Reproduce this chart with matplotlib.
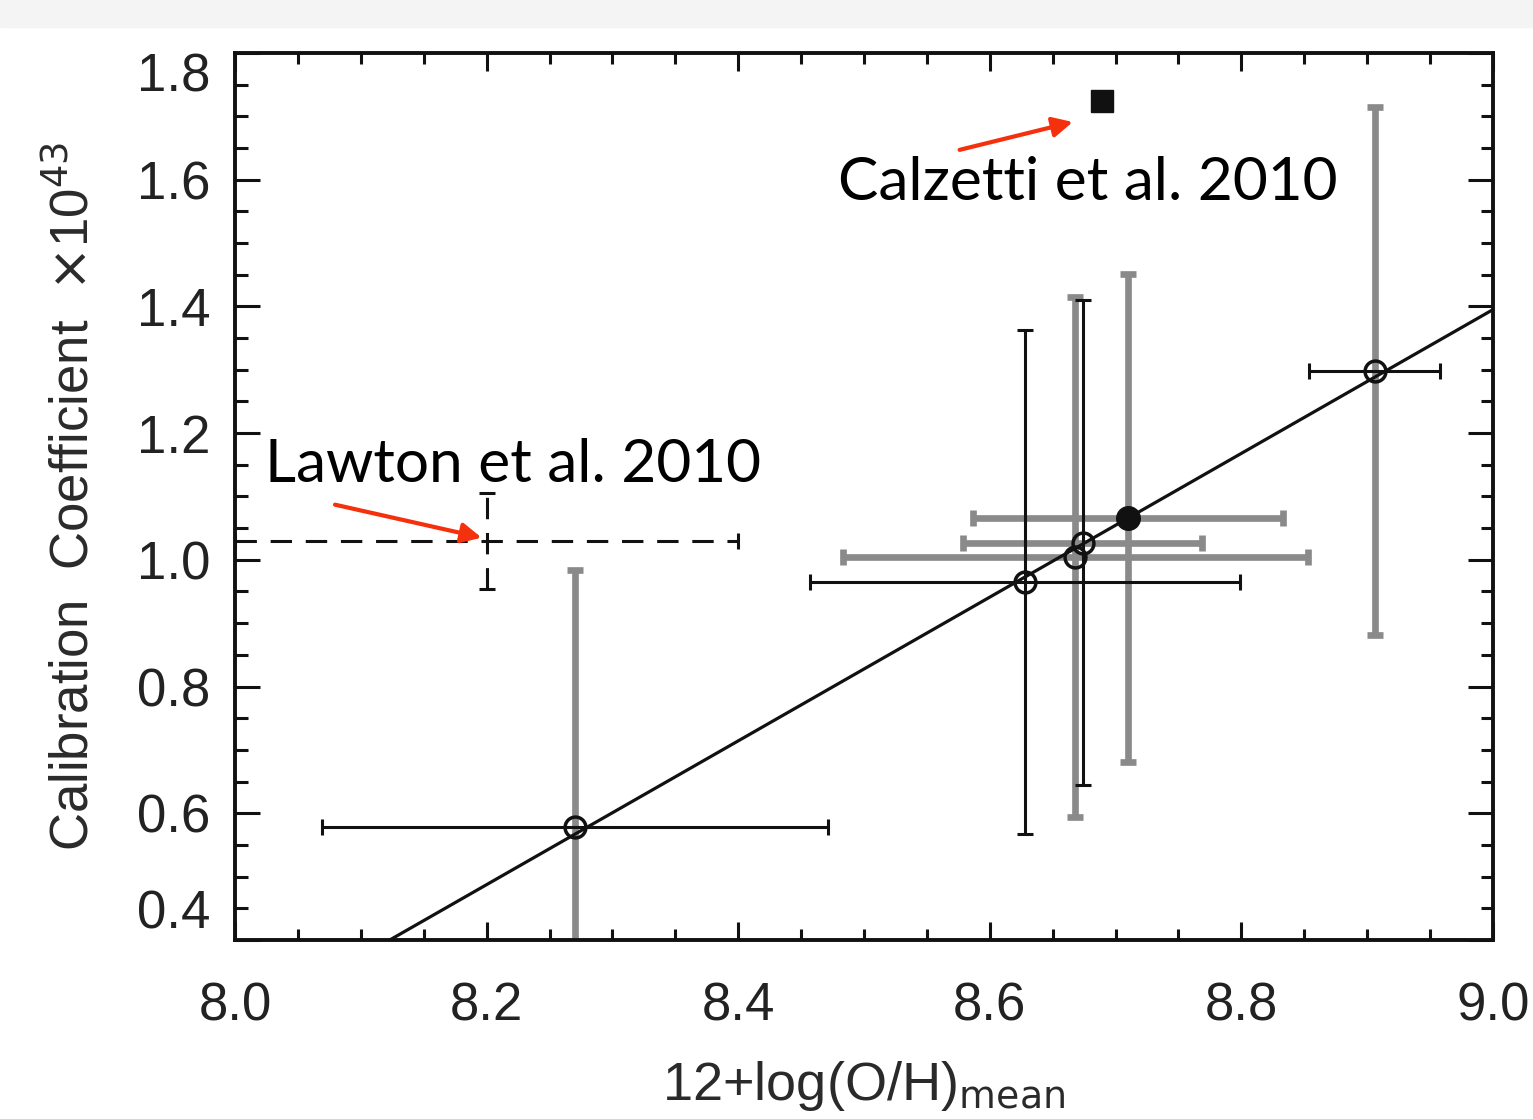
import matplotlib
matplotlib.use('Agg')
import matplotlib.pyplot as plt
from matplotlib.patches import Rectangle
from matplotlib.ticker import MultipleLocator
import numpy as np

# metallicity bins: 12+log(O/H) and calibration coefficient (x 1e43)
oh = [8.270, 8.628, 8.674, 8.668, 8.710, 8.906]
coeff = [0.578, 0.965, 1.027, 1.004, 1.066, 1.298]
oh_err = [0.201, 0.171, 0.095, 0.185, 0.123, 0.052]
coeff_err = [0.406, 0.397, 0.383, 0.410, 0.385, 0.416]
oh_err_gray = [False, False, True, True, True, False]
coeff_err_gray = [True, False, False, True, True, True]
filled = [False, False, False, False, True, False]

# linear fit coefficient = slope * oh + intercept
fit_slope = 1.1345
fit_intercept = -8.8156

# literature values
lawton_oh, lawton_coeff = 8.20, 1.030
lawton_oh_err, lawton_coeff_err = 0.20, 0.076
calzetti_oh, calzetti_coeff = 8.689, 1.724

GRAY = '#8a8a8a'
BLACK = '#111111'

plt.rcParams['font.family'] = ['Liberation Sans', 'DejaVu Sans']

fig = plt.figure(figsize=(15.33, 11.19), dpi=100)
fig.patches.append(Rectangle((0, 1 - 27 / 1119), 1, 27 / 1119,
                             transform=fig.transFigure, color='#f4f4f4', zorder=0))
ax = fig.add_axes([0.1533, 0.160, 0.8206, 0.7927])

# error bars: gray ones first, black on top
for i in range(len(oh)):
    c = GRAY if oh_err_gray[i] else BLACK
    lw = 4.8 if oh_err_gray[i] else 2.2
    ax.errorbar(oh[i], coeff[i], xerr=oh_err[i], fmt='none', ecolor=c,
                elinewidth=lw, capsize=6, capthick=lw, zorder=2 if oh_err_gray[i] else 3)
    c = GRAY if coeff_err_gray[i] else BLACK
    lw = 4.8 if coeff_err_gray[i] else 2.2
    ax.errorbar(oh[i], coeff[i], yerr=coeff_err[i], fmt='none', ecolor=c,
                elinewidth=lw, capsize=6, capthick=lw, zorder=2 if coeff_err_gray[i] else 3)

for i in range(len(oh)):
    if filled[i]:
        ax.plot(oh[i], coeff[i], 'o', ms=17, color=BLACK, zorder=5)
    else:
        ax.plot(oh[i], coeff[i], 'o', ms=15, mfc='none', mec=BLACK, mew=2.5, zorder=5)

xfit = np.array([8.0, 9.0])
ax.plot(xfit, fit_slope * xfit + fit_intercept, color=BLACK, lw=2.3, zorder=4)

# Lawton et al. 2010, dashed
eb = ax.errorbar(lawton_oh, lawton_coeff, xerr=lawton_oh_err, yerr=lawton_coeff_err,
                 fmt='none', ecolor=BLACK, elinewidth=2.2, capsize=6, capthick=2.2, zorder=3)
for lc in eb[2]:
    lc.set_linestyle((0, (7, 4.5)))

# Calzetti et al. 2010
ax.plot(calzetti_oh, calzetti_coeff, 's', ms=16, color=BLACK, zorder=5)

ax.set_xlim(8.0, 9.0)
ax.set_ylim(0.4, 1.8)
ax.set_xticks([8.0, 8.2, 8.4, 8.6, 8.8, 9.0])
ax.set_xticklabels(['8.0', '8.2', '8.4', '8.6', '8.8', '9.0'])
ax.set_yticks([0.4, 0.6, 0.8, 1.0, 1.2, 1.4, 1.6, 1.8])
ax.set_yticklabels(['0.4', '0.6', '0.8', '1.0', '1.2', '1.4', '1.6', '1.8'])
ax.xaxis.set_minor_locator(MultipleLocator(0.05))
ax.yaxis.set_minor_locator(MultipleLocator(0.05))

for s in ax.spines.values():
    s.set_linewidth(2.8)
    s.set_color(BLACK)

ax.tick_params(which='both', direction='in', top=True, right=True, width=2.2, color=BLACK)
ax.tick_params(axis='x', which='major', length=13, pad=30, labelsize=38, labelcolor='#222222')
ax.tick_params(axis='x', which='minor', length=8)
ax.tick_params(axis='y', which='major', length=18, pad=18, labelsize=38, labelcolor='#222222')
ax.tick_params(axis='y', which='minor', length=9)

yt = ax.yaxis.get_major_ticks()
yt[0].label1.set_va('bottom')
yt[-1].label1.set_va('top')

ax.set_xlabel(r'12+log(O/H)$_{\rm mean}$', fontsize=39, color='#2a2a2a', labelpad=20)
ax.set_ylabel(r'Calibration  Coefficient  $\times$10$^{43}$', fontsize=38, color='#2a2a2a')
ax.yaxis.set_label_coords(-0.108, 0.5)

arrow = dict(arrowstyle='-|>', color='#f5300c', lw=3, mutation_scale=30,
             shrinkA=0, shrinkB=0)
ax.annotate('', xy=(8.666, 1.691), xytext=(8.576, 1.647), arrowprops=arrow, zorder=6)
ax.annotate('', xy=(8.196, 1.035), xytext=(8.0795, 1.087), arrowprops=arrow, zorder=6)
ax.text(8.479, 1.594, 'Calzetti et al. 2010', fontsize=43.5, family=['Lato', 'DejaVu Sans'],
        ha='left', va='center', color='black', zorder=7)
ax.text(8.024, 1.150, 'Lawton et al. 2010', fontsize=43.5, family=['Lato', 'DejaVu Sans'],
        ha='left', va='center', color='black', zorder=7)

fig.savefig('out.png', dpi=100)
